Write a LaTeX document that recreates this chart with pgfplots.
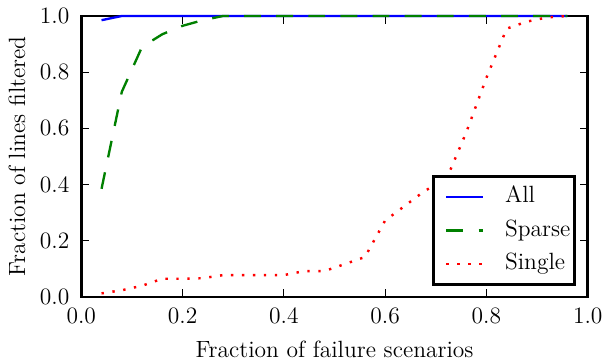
\documentclass[border=0pt]{standalone}
\usepackage{pgfplots}
\pgfplotsset{compat=1.18}
\definecolor{mplblue}{rgb}{0,0,1}
\definecolor{mplgreen}{rgb}{0,0.5,0}
\definecolor{mplred}{rgb}{1,0,0}
\begin{document}
\begin{tikzpicture}[font=\fontsize{12}{14.4}\selectfont]
\begin{axis}[
  scale only axis,
  width=258.6pt, height=143.5pt,
  xmin=0, xmax=1, ymin=0, ymax=1,
  xtick={0,0.2,0.4,0.6,0.8,1.0},
  ytick={0,0.2,0.4,0.6,0.8,1.0},
  tick align=inside,
  xtick pos=both, ytick pos=both,
  major tick length=4pt,
  minor tick num=0,
  tick style={black, line width=0.6pt},
  axis line style={line width=1.5pt},
  xticklabel style={yshift=-2.1pt, /pgf/number format/fixed, /pgf/number format/fixed zerofill, /pgf/number format/precision=1},
  yticklabel style={xshift=-2.6pt, /pgf/number format/fixed, /pgf/number format/fixed zerofill, /pgf/number format/precision=1},
  xlabel={Fraction of failure scenarios},
  ylabel={Fraction of lines filtered},
  xlabel style={at={(axis description cs:0.5,-0.217)}, anchor=base},
  ylabel style={at={(axis description cs:-0.111,0.5)}, anchor=base},
  clip=false,
  legend cell align=left,
  legend image code/.code={\path[draw=none,fill=none] (-6.8pt,-0.6pt) rectangle (0pt,0.6pt); \draw[#1] (0pt,0pt) -- (18.7pt,0pt);},
  legend style={at={(axis description cs:0.977,0.040)}, anchor=south east,
    draw=black, line width=1.4pt, inner xsep=0pt, inner ysep=1.7pt,
    column sep=8.4pt, row sep=0pt,
    nodes={inner xsep=2.2pt, inner ysep=3.1pt, text height=8.4pt, text depth=2.6pt},
    font=\fontsize{12}{14.4}\selectfont},
]
\addplot[color=mplblue, line width=1.2pt] coordinates {
(0.04,0.985) (0.08,1.0) (0.12,1.0) (0.16,1.0) (0.20,1.0) (0.24,1.0) (0.28,1.0) (0.32,1.0)
(0.36,1.0) (0.40,1.0) (0.44,1.0) (0.48,1.0) (0.52,1.0) (0.56,1.0) (0.60,1.0) (0.64,1.0)
(0.68,1.0) (0.72,1.0) (0.76,1.0) (0.80,1.0) (0.84,1.0) (0.88,1.0) (0.92,1.0) (0.96,1.0)
};
\addlegendentry{All}
\addplot[color=mplgreen, line width=1.2pt, dash pattern=on 8.6pt off 7.8pt] coordinates {
(0.04,0.385) (0.08,0.73) (0.12,0.89) (0.16,0.935) (0.20,0.965) (0.24,0.985) (0.28,1.0) (0.32,1.0)
(0.36,1.0) (0.40,1.0) (0.44,1.0) (0.48,1.0) (0.52,1.0) (0.56,1.0) (0.60,1.0) (0.64,1.0)
(0.68,1.0) (0.72,1.0) (0.76,1.0) (0.80,1.0) (0.84,1.0) (0.88,1.0) (0.92,1.0) (0.96,1.0)
};
\addlegendentry{Sparse}
\addplot[color=mplred, line width=1.25pt, dash pattern=on 1.2pt off 4.4pt] coordinates {
(0.04,0.013) (0.08,0.024) (0.12,0.040) (0.16,0.065) (0.20,0.065) (0.24,0.067) (0.28,0.078) (0.32,0.078)
(0.36,0.078) (0.40,0.078) (0.44,0.092) (0.48,0.092) (0.52,0.117) (0.56,0.142) (0.60,0.272) (0.64,0.326)
(0.68,0.380) (0.72,0.415) (0.76,0.585) (0.80,0.780) (0.84,0.955) (0.88,0.980) (0.92,0.995) (0.96,1.0)
};
\addlegendentry{Single}
\coordinate (bbsw) at (rel axis cs:-0.1605,-0.2313);
\coordinate (bbne) at (rel axis cs:1.0361,1.0569);
\end{axis}
\pgfresetboundingbox
\path (bbsw) rectangle (bbne);
\end{tikzpicture}
\end{document}
